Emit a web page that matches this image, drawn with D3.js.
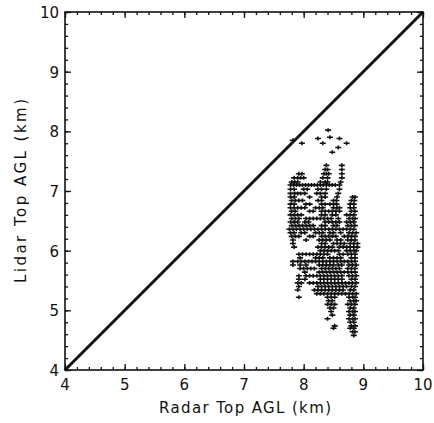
<!DOCTYPE html>
<html>
<head>
  <script src="https://d3js.org/d3.v7.min.js"></script>
  <style>
    body { margin: 0; background: #fff; }
    text { font-family: "DejaVu Sans", sans-serif; fill: #111; }
  </style>
</head>
<body>
  <script>
    const xTicks = [4, 5, 6, 7, 8, 9, 10];
    const yTicks = [4, 5, 6, 7, 8, 9, 10];
    const xLabel = "Radar Top AGL (km)";
    const yLabel = "Lidar Top AGL (km)";
    const oneToOne = [[4, 4], [10, 10]];

    // isolated high cloud tops [lidar, radar...]
    const upperTops = [
      [8.02, 8.41], [7.90, 8.44], [7.88, 8.24, 8.60], [7.85, 7.82],
      [7.80, 7.97, 8.32, 8.72], [7.73, 8.58], [7.65, 8.48]
    ];

    // main cluster rows: [lidar, radar values...]
    const clusterTops = [
      [7.43, 8.38, 8.64],
      [7.36, 8.36, 8.40, 8.64],
      [7.29, 7.92, 7.97, 8.34, 8.38, 8.42, 8.64],
      [7.22, 7.84, 7.90, 7.95, 8.00, 8.32, 8.40, 8.64],
      [7.15, 7.80, 7.85, 7.90, 8.28, 8.36, 8.40, 8.62],
      [7.10, 7.78, 7.83, 7.88, 7.93, 7.98, 8.03, 8.08, 8.13, 8.18, 8.23, 8.28, 8.33, 8.38, 8.43, 8.48, 8.53, 8.60],
      [7.03, 7.78, 7.84, 8.00, 8.06, 8.24, 8.30, 8.38, 8.60],
      [6.96, 7.78, 7.85, 7.90, 7.95, 8.02, 8.22, 8.28, 8.36, 8.58],
      [6.90, 7.78, 7.84, 8.10, 8.30, 8.36, 8.56, 8.82, 8.86],
      [6.84, 7.80, 7.86, 7.92, 7.98, 8.24, 8.30, 8.50, 8.55, 8.80, 8.85],
      [6.78, 7.78, 7.84, 8.04, 8.10, 8.30, 8.36, 8.44, 8.50, 8.55, 8.78, 8.84],
      [6.72, 7.78, 7.84, 7.90, 7.96, 8.02, 8.20, 8.26, 8.32, 8.50, 8.56, 8.60, 8.78, 8.84],
      [6.66, 7.80, 7.86, 8.10, 8.16, 8.30, 8.36, 8.42, 8.48, 8.54, 8.60, 8.80, 8.86],
      [6.60, 7.78, 7.84, 7.90, 7.96, 8.30, 8.36, 8.48, 8.54, 8.72, 8.78, 8.84],
      [6.54, 7.80, 7.86, 7.92, 8.04, 8.10, 8.16, 8.22, 8.28, 8.34, 8.40, 8.46, 8.58, 8.76, 8.82, 8.86],
      [6.48, 7.78, 7.84, 7.90, 8.02, 8.08, 8.36, 8.42, 8.48, 8.54, 8.60, 8.72, 8.78, 8.84],
      [6.42, 7.80, 7.86, 7.92, 7.98, 8.04, 8.10, 8.16, 8.30, 8.36, 8.50, 8.56, 8.74, 8.80, 8.86],
      [6.36, 7.76, 7.82, 7.88, 7.94, 8.00, 8.06, 8.12, 8.18, 8.24, 8.30, 8.36, 8.42, 8.48, 8.54, 8.60, 8.66, 8.72, 8.78, 8.84],
      [6.30, 7.78, 7.84, 7.96, 8.02, 8.20, 8.26, 8.32, 8.44, 8.50, 8.62, 8.76, 8.82, 8.88],
      [6.24, 7.80, 7.86, 7.92, 8.10, 8.16, 8.30, 8.36, 8.42, 8.48, 8.54, 8.68, 8.74, 8.80, 8.86],
      [6.18, 7.82, 8.04, 8.26, 8.32, 8.38, 8.44, 8.56, 8.62, 8.74, 8.80, 8.86],
      [6.12, 7.82, 8.30, 8.36, 8.50, 8.56, 8.62, 8.68, 8.78, 8.84, 8.90],
      [6.06, 7.84, 8.24, 8.30, 8.36, 8.42, 8.48, 8.60, 8.66, 8.72, 8.78, 8.84, 8.90],
      [6.00, 8.28, 8.34, 8.40, 8.46, 8.52, 8.58, 8.72, 8.78, 8.84, 8.88],
      [5.94, 7.92, 7.98, 8.04, 8.10, 8.16, 8.22, 8.28, 8.34, 8.40, 8.60, 8.66, 8.74, 8.80, 8.86],
      [5.88, 7.94, 8.20, 8.26, 8.32, 8.44, 8.50, 8.56, 8.62, 8.80, 8.86],
      [5.82, 7.82, 7.90, 7.96, 8.02, 8.08, 8.14, 8.20, 8.26, 8.32, 8.38, 8.44, 8.50, 8.56, 8.62, 8.68, 8.74, 8.80, 8.86],
      [5.76, 7.82, 7.94, 8.04, 8.26, 8.32, 8.38, 8.44, 8.50, 8.58, 8.64, 8.76, 8.82, 8.88],
      [5.70, 7.94, 8.00, 8.06, 8.12, 8.18, 8.30, 8.36, 8.42, 8.48, 8.54, 8.60, 8.74, 8.80, 8.86],
      [5.64, 8.02, 8.26, 8.32, 8.38, 8.44, 8.50, 8.56, 8.62, 8.68, 8.74, 8.80, 8.86],
      [5.58, 7.92, 8.04, 8.10, 8.16, 8.22, 8.28, 8.34, 8.40, 8.46, 8.52, 8.58, 8.64, 8.76, 8.82, 8.88],
      [5.52, 7.92, 8.02, 8.28, 8.34, 8.40, 8.46, 8.52, 8.58, 8.64, 8.80, 8.86],
      [5.46, 7.90, 7.96, 8.10, 8.16, 8.22, 8.28, 8.34, 8.40, 8.46, 8.52, 8.58, 8.64, 8.70, 8.76, 8.82, 8.88],
      [5.40, 7.92, 8.24, 8.30, 8.36, 8.42, 8.48, 8.54, 8.60, 8.66, 8.72, 8.80, 8.86],
      [5.34, 7.90, 8.18, 8.24, 8.30, 8.36, 8.42, 8.48, 8.54, 8.60, 8.66, 8.78, 8.84],
      [5.28, 8.22, 8.28, 8.34, 8.40, 8.46, 8.52, 8.58, 8.64, 8.70, 8.76, 8.82, 8.88],
      [5.22, 7.92, 8.40, 8.46, 8.52, 8.76, 8.82, 8.86],
      [5.16, 8.42, 8.48, 8.78, 8.84, 8.88],
      [5.10, 8.40, 8.46, 8.52, 8.74, 8.80, 8.86],
      [5.04, 8.44, 8.50, 8.78, 8.84],
      [4.98, 8.46, 8.76, 8.82, 8.86],
      [4.92, 8.48, 8.78, 8.84],
      [4.86, 8.40, 8.76, 8.82, 8.86],
      [4.80, 8.78, 8.84],
      [4.74, 8.52, 8.80, 8.86],
      [4.70, 8.50, 8.78, 8.84],
      [4.64, 8.82, 8.86],
      [4.58, 8.84]
    ];

    const width = 434, height = 423;
    const margin = { top: 12, right: 11, bottom: 53, left: 65 };

    const svg = d3.select("body").append("svg")
      .attr("width", width)
      .attr("height", height);

    const x = d3.scaleLinear().domain([4, 10]).range([margin.left, width - margin.right]);
    const y = d3.scaleLinear().domain([4, 10]).range([height - margin.bottom, margin.top]);

    const minor = d3.range(4, 10.001, 0.2);

    // inward ticks on all four sides
    function styleAxis(g) {
      g.select(".domain").remove();
      g.selectAll("line").attr("stroke", "#111").attr("stroke-width", 1.3);
    }

    function frameTicks(values, size) {
      svg.append("g").attr("transform", `translate(0,${y(4)})`)
        .call(d3.axisTop(x).tickValues(values).tickSize(size).tickFormat("")).call(styleAxis);
      svg.append("g").attr("transform", `translate(0,${y(10)})`)
        .call(d3.axisBottom(x).tickValues(values).tickSize(size).tickFormat("")).call(styleAxis);
      svg.append("g").attr("transform", `translate(${x(4)},0)`)
        .call(d3.axisRight(y).tickValues(values).tickSize(size).tickFormat("")).call(styleAxis);
      svg.append("g").attr("transform", `translate(${x(10)},0)`)
        .call(d3.axisLeft(y).tickValues(values).tickSize(size).tickFormat("")).call(styleAxis);
    }
    frameTicks(minor, 3);
    frameTicks(xTicks, 6);

    svg.append("rect")
      .attr("x", x(4)).attr("y", y(10))
      .attr("width", x(10) - x(4)).attr("height", y(4) - y(10))
      .attr("fill", "none").attr("stroke", "#111").attr("stroke-width", 1.6);

    // tick labels
    svg.append("g").selectAll("text")
      .data(xTicks).join("text")
      .attr("x", d => x(d)).attr("y", 390)
      .attr("text-anchor", "middle")
      .attr("font-size", 15)
      .text(d => d);

    svg.append("g").selectAll("text")
      .data(yTicks).join("text")
      .attr("x", x(4) - 6).attr("y", d => y(d) + 6)
      .attr("text-anchor", "end")
      .attr("font-size", 15)
      .text(d => d);

    svg.append("text")
      .attr("x", 245).attr("y", 413)
      .attr("text-anchor", "middle")
      .attr("font-size", 15)
      .attr("textLength", 172)
      .text(xLabel);

    svg.append("text")
      .attr("transform", `translate(26,${(y(4) + y(10)) / 2}) rotate(-90)`)
      .attr("text-anchor", "middle")
      .attr("font-size", 15)
      .attr("textLength", 184)
      .text(yLabel);

    // 1:1 line
    svg.append("path")
      .datum(oneToOne)
      .attr("d", d3.line().x(d => x(d[0])).y(d => y(d[1])))
      .attr("stroke", "#111").attr("stroke-width", 3).attr("fill", "none");

    const points = [];
    upperTops.concat(clusterTops).forEach(row => {
      row.slice(1).forEach(r => points.push({ radar: r, lidar: row[0] }));
    });

    svg.append("g").selectAll("path")
      .data(points).join("path")
      .attr("transform", d => `translate(${x(d.radar)},${y(d.lidar)})`)
      .attr("d", "M-3,0H3M0,-2V2")
      .attr("stroke", "#111")
      .attr("stroke-width", 1.6)
      .attr("fill", "none");
  </script>
</body>
</html>
